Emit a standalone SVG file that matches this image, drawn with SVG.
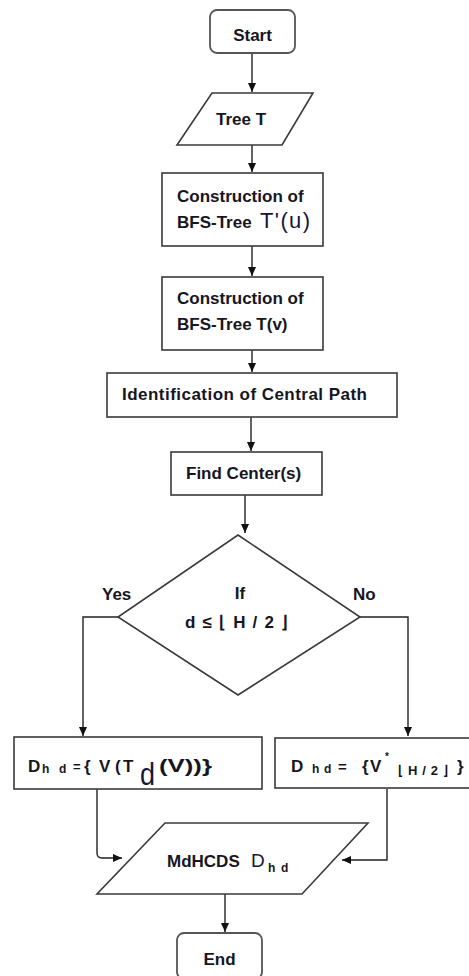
<svg xmlns="http://www.w3.org/2000/svg" width="469" height="976" viewBox="0 0 469 976">
<style>
.shape{fill:#fff;stroke:#3a3a3a;stroke-width:1.6}
.term{fill:#fff;stroke:#555;stroke-width:1.8}
.t{font-family:"Liberation Sans",Arial,sans-serif;font-weight:bold;font-size:17px;fill:#161622}
.r{font-family:"Liberation Sans",Arial,sans-serif;font-weight:normal;fill:#161636}
.sub{font-size:12px;font-weight:bold}
.ln{fill:none;stroke:#222;stroke-width:1.4}
</style>
<defs>
<marker id="ah" markerWidth="10" markerHeight="10" refX="9" refY="5" orient="auto" markerUnits="userSpaceOnUse">
<path d="M0,1 L9,5 L0,9 Z" fill="#111"/>
</marker>
</defs>
<rect width="469" height="976" fill="#fff"/>
<g id="connectors">
<path class="ln" d="M252,53 V92" marker-end="url(#ah)"/>
<path class="ln" d="M252,145 V172" marker-end="url(#ah)"/>
<path class="ln" d="M252,246 V276" marker-end="url(#ah)"/>
<path class="ln" d="M252,350 V372" marker-end="url(#ah)"/>
<path class="ln" d="M251,417 V451" marker-end="url(#ah)"/>
<path class="ln" d="M245,495 V533" marker-end="url(#ah)"/>
<path class="ln" d="M118,617 H83 V736" marker-end="url(#ah)"/>
<path class="ln" d="M360,617 H408 V736" marker-end="url(#ah)"/>
<path class="ln" d="M97,789 V853 Q97,858 102,858 H122" marker-end="url(#ah)"/>
<path class="ln" d="M387,789 V860 H342" marker-end="url(#ah)"/>
<path class="ln" d="M225,894 V932" marker-end="url(#ah)"/>
</g>
<g id="start">
<rect class="term" x="210" y="10" width="85" height="43" rx="7"/>
<text class="t" x="252.5" y="41" text-anchor="middle" font-size="18">Start</text>
</g>
<g id="tree">
<polygon class="shape" points="212,93 313,93 282,145 177,145"/>
<text class="t" x="241" y="125" text-anchor="middle">Tree T</text>
</g>
<g id="bfs-u">
<rect class="shape" x="162" y="173" width="161" height="73"/>
<text class="t" x="177" y="202">Construction of</text>
<text class="t" x="177" y="228">BFS-Tree <tspan class="r" x="260" font-size="22" textLength="50" lengthAdjust="spacing">T'(u)</tspan></text>
</g>
<g id="bfs-v">
<rect class="shape" x="162" y="277" width="161" height="73"/>
<text class="t" x="177" y="304">Construction of</text>
<text class="t" x="177" y="330">BFS-Tree T(v)</text>
</g>
<g id="central">
<rect class="shape" x="107" y="373" width="290" height="44"/>
<text class="t" x="122" y="400" textLength="245">Identification of Central Path</text>
</g>
<g id="centers">
<rect class="shape" x="171" y="452" width="151" height="43"/>
<text class="t" x="186" y="479">Find Center(s)</text>
</g>
<g id="decision">
<polygon class="shape" points="238,535 360,617 238,695 118,617"/>
<text class="t" x="240" y="599" text-anchor="middle">If</text>
<text class="t" x="185" y="628" textLength="103" lengthAdjust="spacing">d ≤ ⌊ H / 2 ⌋</text>
<text class="t" x="102" y="600">Yes</text>
<text class="t" x="353" y="600">No</text>
</g>
<g id="yes-box">
<rect class="shape" x="14" y="737" width="248" height="52"/>
<text class="t" x="28" y="772" font-size="18">D<tspan class="sub" x="42" y="773">h</tspan><tspan class="sub" x="59" y="773">d</tspan><tspan x="73" y="771" font-size="13">=</tspan><tspan x="84" y="772">{</tspan><tspan x="99" y="772">V</tspan><tspan x="115" y="772">(</tspan><tspan x="123" y="772">T</tspan><tspan class="r" x="140" y="785" font-size="32" textLength="15" lengthAdjust="spacingAndGlyphs">d</tspan><tspan x="159" y="772" font-size="19" textLength="53" lengthAdjust="spacingAndGlyphs">(V))}</tspan></text>
</g>
<g id="no-box">
<rect class="shape" x="275" y="738" width="197" height="50"/>
<text class="t" x="291" y="772" font-size="18">D<tspan class="sub" x="312" y="773">h</tspan><tspan class="sub" x="324" y="773">d</tspan><tspan x="338" y="772" font-size="15">=</tspan><tspan x="362" y="772">{</tspan><tspan x="370" y="772">V</tspan><tspan x="385" y="760" font-size="10">*</tspan><tspan x="398" y="775" font-size="13" textLength="50" lengthAdjust="spacing">⌊H/2⌋</tspan><tspan x="457" y="772">}</tspan></text>
</g>
<g id="output">
<polygon class="shape" points="165,823 368,823 302,894 97,894"/>
<text class="t" x="167" y="867">MdHCDS <tspan class="r" x="251" font-size="19">D</tspan><tspan class="sub" x="268" y="872">h</tspan><tspan class="sub" x="281" y="872">d</tspan></text>
</g>
<g id="end">
<rect class="term" x="177" y="933" width="85" height="46" rx="7"/>
<text class="t" x="219.5" y="965" text-anchor="middle">End</text>
</g>
</svg>
